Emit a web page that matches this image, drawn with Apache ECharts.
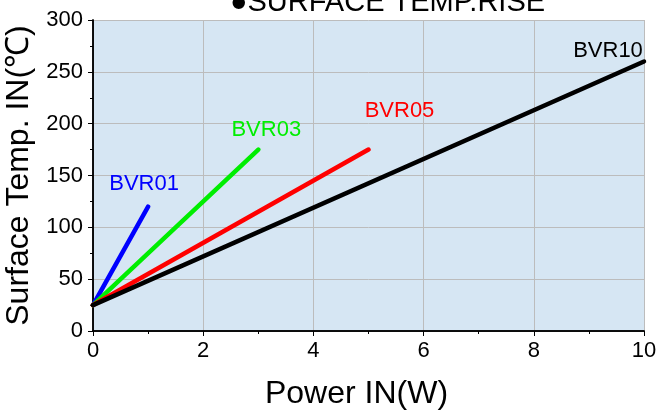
<!DOCTYPE html>
<html><head><meta charset="utf-8">
<script src="https://cdn.jsdelivr.net/npm/echarts@6/dist/echarts.min.js"></script>
<style>html,body{margin:0;padding:0;background:#fff}#c{width:659px;height:415px}</style>
</head><body><div id="c"></div>
<script>
const xTicks = [0, 2, 4, 6, 8, 10];
const yTicks = [0, 50, 100, 150, 200, 250, 300];
const seriesNames = ['BVR01', 'BVR03', 'BVR05', 'BVR10'];
const bvr01 = [[0, 25], [1, 120]];
const bvr03 = [[0, 25], [3, 175]];
const bvr05 = [[0, 25], [5, 175]];
const bvr10 = [[0, 25], [10, 260]];
const colors = ['#0000ff', '#00ee00', '#ff0000', '#000000'];
const labelOffsets = [[-4, -23], [8, -20], [31, -39], [-36, -11]];
const allData = [bvr01, bvr03, bvr05, bvr10];

const F = 'Arial, "Liberation Sans", sans-serif';
const chart = echarts.init(document.getElementById('c'));
const axCommonX = {
  type: 'value', min: xTicks[0], max: xTicks[xTicks.length - 1], interval: 2,
  axisLine: { lineStyle: { color: '#000', width: 1.5 } },
  minorTick: { show: true, splitNumber: 2, length: 3, lineStyle: { color: '#000' } },
};
const axCommonY = {
  type: 'value', min: yTicks[0], max: yTicks[yTicks.length - 1], interval: 50,
  axisLine: { lineStyle: { color: '#000', width: 1.5 } },
  minorTick: { show: true, splitNumber: 2, length: 3, lineStyle: { color: '#000' } },
};
chart.setOption({
  animation: false,
  title: {
    text: '●SURFACE TEMP.RISE', left: 225, top: -17,
    textStyle: { fontFamily: F, fontSize: 29, fontWeight: 'normal', color: '#000' }
  },
  grid: {
    left: 93, right: 15, top: 20, bottom: 84, show: true, backgroundColor: '#d6e6f3', borderWidth: 0,
    containLabel: false, outerBoundsMode: 'none'
  },
  xAxis: [
    Object.assign({}, axCommonX, {
      position: 'bottom',
      name: 'Power IN(W)', nameLocation: 'middle', nameGap: 47,
      nameTextStyle: { fontFamily: F, fontSize: 32, color: '#000', padding: [0, 24, 0, 0] },
      axisTick: { show: true, inside: false, length: 5, lineStyle: { color: '#000' } },
      axisLabel: { fontFamily: F, fontSize: 22, color: '#000', margin: 9 },
      splitLine: { show: true, lineStyle: { color: '#bcbcbc', width: 1 } }
    }),
    Object.assign({}, axCommonX, {
      position: 'top',
      axisTick: { show: true, inside: true, length: 5, lineStyle: { color: '#000' } },
      minorTick: { show: true, splitNumber: 2, length: 3, lineStyle: { color: '#000' } },
      axisLabel: { show: false }, splitLine: { show: false }
    })
  ],
  yAxis: [
    Object.assign({}, axCommonY, {
      position: 'left',
      name: 'Surface Temp. IN(℃)', nameLocation: 'middle', nameGap: 56, nameRotate: 90,
      nameTextStyle: { fontFamily: F, fontSize: 32, color: '#000' },
      axisTick: { show: true, inside: false, length: 5, lineStyle: { color: '#000' } },
      axisLabel: { fontFamily: F, fontSize: 22, color: '#000', margin: 10 },
      splitLine: { show: true, lineStyle: { color: '#bcbcbc', width: 1 } }
    }),
    Object.assign({}, axCommonY, {
      position: 'right',
      axisTick: { show: true, inside: true, length: 5, lineStyle: { color: '#000' } },
      minorTick: { show: true, splitNumber: 2, length: 3, lineStyle: { color: '#000' } },
      axisLabel: { show: false }, splitLine: { show: false }
    })
  ],
  series: allData.map((d, i) => ({
    name: seriesNames[i], type: 'line', data: d, xAxisIndex: 0, yAxisIndex: 0,
    showSymbol: false, symbol: 'none',
    lineStyle: { color: colors[i], width: 4.5, cap: 'round' },
    markPoint: {
      symbol: 'circle', symbolSize: 1, itemStyle: { color: 'rgba(0,0,0,0)' },
      data: [{
        coord: d[d.length - 1],
        label: {
          show: true, formatter: seriesNames[i], position: 'inside', offset: labelOffsets[i],
          color: colors[i], fontFamily: F, fontSize: 22
        }
      }]
    }
  }))
});
</script></body></html>
